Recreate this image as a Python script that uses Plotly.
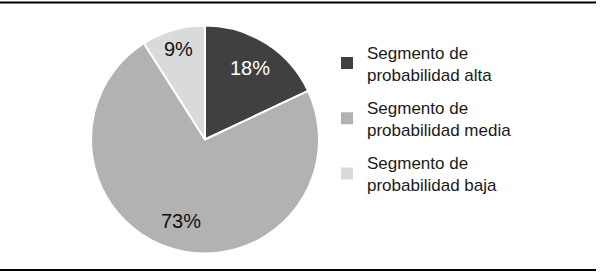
import math
import plotly.graph_objects as go

labels = ["Segmento de<br>probabilidad alta", "Segmento de<br>probabilidad media", "Segmento de<br>probabilidad baja"]
values = [18, 73, 9]
text_labels = ["18%", "73%", "9%"]
colors = ["#404040", "#b2b2b2", "#d9dadb"]
text_colors = ["#ffffff", "#111111", "#111111"]
label_radius = [0.74, 0.74, 0.83]

W, H = 606, 276
cx, cy, r = 205, 139.5, 114

fig = go.Figure()
fig.add_trace(go.Pie(
    labels=labels,
    values=values,
    textinfo="none",
    marker=dict(colors=colors, line=dict(color="#ffffff", width=2)),
    sort=False,
    direction="clockwise",
    rotation=0,
    domain=dict(x=[(cx - r) / W, (cx + r) / W], y=[(H - cy - r) / H, (H - cy + r) / H]),
    hoverinfo="skip",
    showlegend=False,
))

# legend proxies (one per slice) so that the entries can be spaced like the original
for i, (lab, col) in enumerate(zip(labels, colors)):
    fig.add_trace(go.Scatter(
        x=[None], y=[None], mode="markers", name=lab,
        marker=dict(symbol="square", size=12, color=col),
        legendgroup=f"g{i}", showlegend=True, hoverinfo="skip",
    ))

# slice labels placed at the slice mid-angle computed from the values
total = sum(values)
annotations = []
cum = 0
for v, t, tc, lr in zip(values, text_labels, text_colors, label_radius):
    mid = (cum + v / 2) / total * 2 * math.pi
    cum += v
    px = cx + lr * r * math.sin(mid)
    py = cy - lr * r * math.cos(mid)
    annotations.append(dict(
        x=px / W, y=1 - py / H, xref="paper", yref="paper", text=t, showarrow=False,
        font=dict(family="Liberation Sans", size=20, color=tc),
        xanchor="center", yanchor="middle",
    ))

fig.update_layout(
    width=W, height=H,
    margin=dict(l=0, r=0, t=0, b=0),
    paper_bgcolor="#ffffff",
    plot_bgcolor="#ffffff",
    xaxis=dict(visible=False),
    yaxis=dict(visible=False),
    showlegend=True,
    legend=dict(
        x=327 / W, y=1 - 34.5 / H, xanchor="left", yanchor="top",
        font=dict(family="Liberation Sans", size=17, color="#1a1a1a"),
        tracegroupgap=8,
        bgcolor="rgba(0,0,0,0)",
    ),
    annotations=annotations,
    shapes=[
        dict(type="line", xref="paper", yref="paper", x0=0, x1=596 / W, y0=1 - 2.5 / H, y1=1 - 2.5 / H,
             line=dict(color="#000000", width=2)),
        dict(type="line", xref="paper", yref="paper", x0=0, x1=596 / W, y0=6 / H, y1=6 / H,
             line=dict(color="#000000", width=2)),
    ],
)

fig.write_html(
    "out.html",
    config={"displayModeBar": False},
    post_script="document.body.style.margin='0';document.body.style.padding='0';",
)
